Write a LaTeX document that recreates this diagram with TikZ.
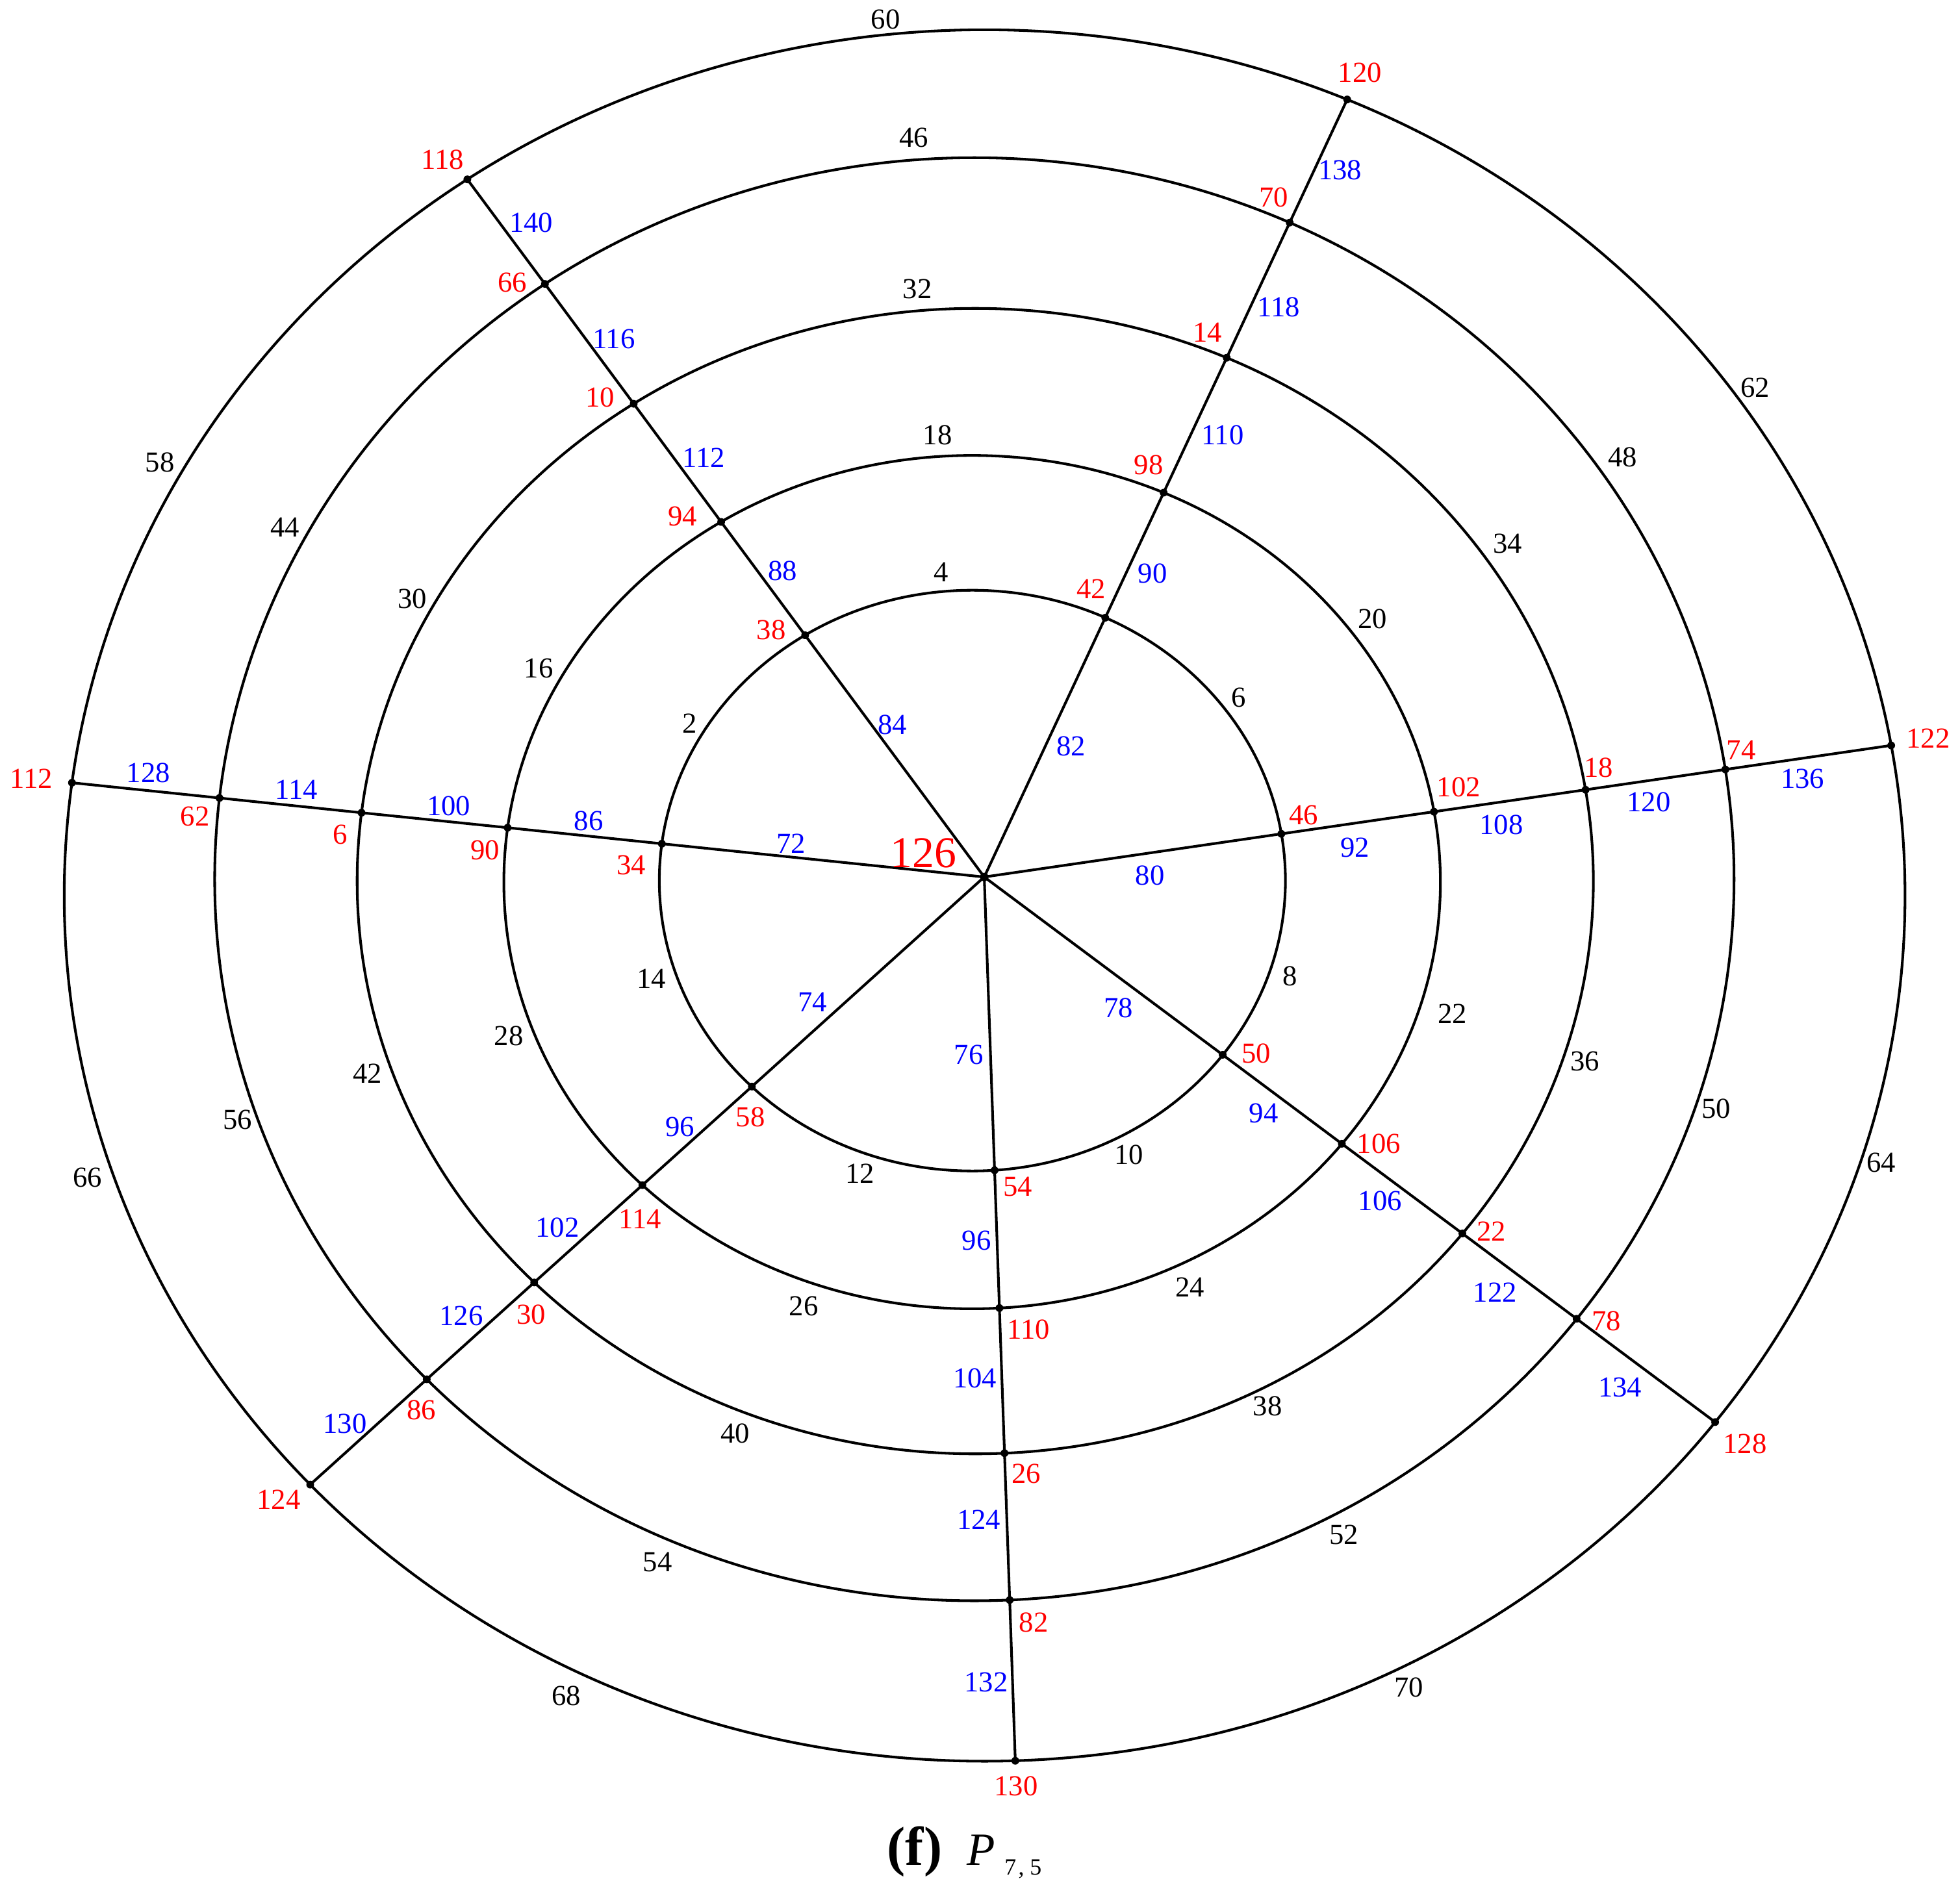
\documentclass[tikz,border=0pt]{standalone}
\usepackage{fontspec}
\setmainfont{Liberation Serif}
\usetikzlibrary{intersections,calc}
\begin{document}
\begin{tikzpicture}[x=0.01cm,y=-0.01cm,
  ringline/.style={line width=0.6pt},
  vl/.style={text=red,font=\fontsize{6.6}{7}\selectfont,inner sep=0pt},
  el/.style={text=blue,font=\fontsize{6.6}{7}\selectfont,inner sep=0pt},
  al/.style={text=black,font=\fontsize{6.6}{7}\selectfont,inner sep=0pt},
  vdot/.style={fill=black}]
\useasboundingbox (0,0) rectangle (1568,1517);
% hub and ring centres
\coordinate (h) at (787.4,701.7);
\coordinate (c1) at (777.9,704.6);
\coordinate (c2) at (777.7,705.8);
\coordinate (c3) at (780.2,705.0);
\coordinate (c4) at (779.5,703.5);
\coordinate (c5) at (787.7,716.5);
\draw[ringline,name path global=r1] (c1) ellipse [x radius=2.503cm,y radius=2.322cm];
\draw[ringline,name path global=r2] (c2) ellipse [x radius=3.744cm,y radius=3.412cm];
\draw[ringline,name path global=r3] (c3) ellipse [x radius=4.942cm,y radius=4.580cm];
\draw[ringline,name path global=r4] (c4) ellipse [x radius=6.074cm,y radius=5.770cm];
\draw[ringline,name path global=r5] (c5) ellipse [x radius=7.359cm,y radius=6.923cm];
% spoke directions (outer ends)
\coordinate (o1) at (375,145);
\coordinate (o2) at (1077,81);
\coordinate (o3) at (1511,596.7);
\coordinate (o4) at (1371,1137);
\coordinate (o5) at (812.3,1408.5);
\coordinate (o6) at (248,1188);
\coordinate (o7) at (57.2,626.3);
\foreach \ss in {1,...,7}{
  \path[name path global=s\ss] (h) -- ($(h)!1.08!(o\ss)$);
  \foreach \rr in {1,...,5}{
    \edef\tmpcmd{\noexpand\path[name intersections={of=r\rr\space and s\ss, by={v\rr\ss}}];}
    \tmpcmd
  }
}
\foreach \ss in {1,...,7}{
  \draw[ringline] (h) -- (v1\ss) -- (v2\ss) -- (v3\ss) -- (v4\ss) -- (v5\ss);
}
\foreach \ss in {1,...,7}{
  \foreach \rr in {1,...,5}{
    \fill[vdot] (v\rr\ss) circle (0.031cm);
  }
}
\fill[vdot] (h) circle (0.034cm);
% hub label
\node[text=red,font=\fontsize{10}{12}\selectfont,inner sep=0pt] (lh) at (738.9,682.6) {126};
% vertex labels (red)
\foreach \n/\x/\y/\t in {
  a11/617/504/38, a21/546/413/94, a31/480/318/10, a41/410/226/66, a51/354/128/118,
  a12/873/471/42, a22/919/372/98, a32/966/266/14, a42/1019/158/70, a52/1088/58/120,
  a13/1043/652/46, a23/1167/630/102, a33/1279/614/18, a43/1393/600/74, a53/1542.6/590.8/122,
  a14/1005/843/50, a24/1103/915/106, a34/1193/985/22, a44/1285/1057/78, a54/1396/1155/128,
  a15/814.3/949.4/54, a25/822.9/1063.8/110, a35/821/1179/26, a45/827/1298/82, a55/812.9/1429.3/130,
  a16/600.3/894/58, a26/512/975.5/114, a36/425/1052/30, a46/337/1128/86, a56/223/1200/124,
  a17/505/692/34, a27/388/680/90, a37/272/668/6, a47/156/653/62, a57/25/622.8/112}
  \node[vl] (\n) at (\x,\y) {\t};
% spoke edge labels (blue)
\foreach \n/\x/\y/\t in {
  b11/714/580/84, b21/626/457/88, b31/563/366/112, b41/491/271/116, b51/425/178/140,
  b12/857/597/82, b22/922/459/90, b32/978/348/110, b42/1023/246/118, b52/1072/136/138,
  b13/920/700.7/80, b23/1084/678/92, b33/1201/660/108, b43/1319/642/120, b53/1442/623/136,
  b14/894.8/806.5/78, b24/1011/891/94, b34/1104/961/106, b44/1196/1034/122, b54/1296/1110/134,
  b15/775/844/76, b25/781.3/992.7/96, b35/780/1103/104, b45/783/1216/124, b55/789/1346/132,
  b16/650/802/74, b26/544/901.8/96, b36/446/982/102, b46/369/1053/126, b56/276/1139/130,
  b17/633/675/72, b27/471/657/86, b37/359/645/100, b47/237/632/114, b57/118.7/618.5/128}
  \node[el] (\n) at (\x,\y) {\t};
% arc labels (black)
\foreach \n/\x/\y/\t in {
  d11/753/458/4, d12/991/558/6, d13/1032/781/8, d14/903/924/10, d15/688/939/12, d16/521/783/14, d17/552/579/2,
  d21/750/348/18, d22/1098/495/20, d23/1162/811/22, d24/952/1030/24, d25/643/1045/26, d26/407/829/28, d27/431/535/16,
  d31/734/231/32, d32/1206/435/34, d33/1268/849/36, d34/1014/1125/38, d35/588/1147/40, d36/294/859/42, d37/330/479/30,
  d41/731/110/46, d42/1298/366/48, d43/1373/887/50, d44/1075/1228/52, d45/526/1250/54, d46/190/896/56, d47/228/422/44,
  d51/708.5/15.6/60, d52/1404/310/62, d53/1505/930/64, d54/1127/1350/70, d55/453/1357/68, d56/70/942/66, d57/128/370/58}
  \node[al] (\n) at (\x,\y) {\t};
% caption
\node[anchor=base,inner sep=0pt,font=\fontsize{12.5}{14}\selectfont\bfseries] (capf) at (731.8,1492.5) {(f)};
\node[anchor=base west,inner sep=0pt,font=\fontsize{10.5}{12}\selectfont\itshape] (capp) at (773,1492.5) {P};
\node[anchor=base west,inner sep=0pt,font=\fontsize{5.3}{6}\selectfont] (caps) at (803,1500.3) {7\kern0.5pt,\kern1.3pt5};
\end{tikzpicture}
\end{document}
